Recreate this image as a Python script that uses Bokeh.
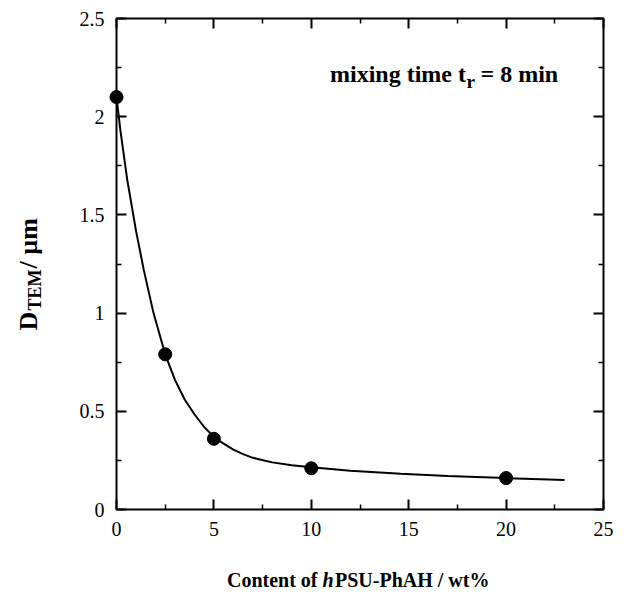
import math
from bokeh.plotting import figure
from bokeh.models import Range1d, FixedTicker, LinearAxis
from bokeh.core.properties import value
from bokeh.embed import file_html
from bokeh.resources import INLINE

# ---- data ----
content = [0, 2.5, 5, 10, 20]
d_tem = [2.10, 0.79, 0.36, 0.21, 0.16]

fit_x = [0, 0.2, 0.55, 1.0, 1.4, 1.9, 2.5, 3.0, 3.5, 4.0, 4.5, 5.0, 5.5, 6.0, 6.5, 7.0,
         8.0, 9.0, 10, 12, 14.6, 17, 20, 23]
fit_y = [2.10, 1.93, 1.68, 1.42, 1.22, 1.00, 0.79, 0.66, 0.56, 0.485, 0.42, 0.37, 0.335,
         0.305, 0.282, 0.263, 0.240, 0.225, 0.215, 0.197, 0.182, 0.170, 0.160, 0.150]

x_ticks = [0, 5, 10, 15, 20, 25]
x_tick_labels = ["0", "5", "10", "15", "20", "25"]
x_minor = [2.5, 7.5, 12.5, 17.5, 22.5]
y_ticks = [0, 0.5, 1.0, 1.5, 2.0, 2.5]
y_tick_labels = ["0", "0.5", "1", "1.5", "2", "2.5"]
y_minor = [0.25, 0.75, 1.25, 1.75, 2.25]

SERIF = "Liberation Serif"

# ---- geometry (canvas pixels) ----
W, H = 628, 592
AX_L, AX_R, AX_T, AX_B = 116, 603, 18, 509   # frame edges

def dx(px):   # canvas x -> data x
    return (px - AX_L) / (AX_R - AX_L) * 25.0
def dy(py):   # canvas y -> data y
    return (AX_B - py) / (AX_B - AX_T) * 2.5

p = figure(width=W, height=H, output_backend="svg", toolbar_location=None,
           x_range=Range1d(0, 25), y_range=Range1d(0, 2.5),
           min_border_left=AX_L, min_border_right=W - AX_R,
           min_border_top=AX_T, min_border_bottom=H - AX_B,
           background_fill_color="white", border_fill_color="white")
p.grid.visible = False
p.outline_line_color = "black"
p.outline_line_width = 2

def style_axis(ax, ticks, minor, labels, show):
    ax.ticker = FixedTicker(ticks=ticks, minor_ticks=minor)
    ax.axis_line_color = None
    ax.major_tick_in = 10
    ax.major_tick_out = 0
    ax.minor_tick_in = 5
    ax.minor_tick_out = 0
    ax.major_tick_line_color = "black"
    ax.minor_tick_line_color = "black"
    ax.major_tick_line_width = 2
    ax.minor_tick_line_width = 1.5
    if show:
        ax.major_label_overrides = {t: l for t, l in zip(ticks, labels)}
        ax.major_label_text_font = SERIF
        ax.major_label_text_font_size = "20px"
        ax.major_label_text_color = "black"
        ax.major_label_standoff = 12
    else:
        ax.major_label_overrides = {t: "" for t in ticks}
        ax.major_label_text_font_size = "0px"
        ax.major_label_standoff = 0

style_axis(p.xaxis[0], x_ticks, x_minor, x_tick_labels, True)
style_axis(p.yaxis[0], y_ticks, y_minor, y_tick_labels, True)
top_ax = LinearAxis()
right_ax = LinearAxis()
style_axis(top_ax, x_ticks, x_minor, x_tick_labels, False)
style_axis(right_ax, y_ticks, y_minor, y_tick_labels, False)
p.add_layout(top_ax, "above")
p.add_layout(right_ax, "right")

# fitted curve and data points (points drawn unclipped so the x=0 point shows whole)
p.line(fit_x, fit_y, line_color="black", line_width=2)
p.scatter(content, d_tem, size=13, marker="circle", fill_color="black", line_color="black",
          level="overlay")

def txt(px, py, s, size, align="left", style="bold", angle=0.0):
    p.text(x=[dx(px)], y=[dy(py)], text=[s], angle=angle,
           text_font=value(SERIF), text_font_size=value(size),
           text_font_style=value(style), text_color="black",
           text_align=value(align), text_baseline=value("alphabetic"),
           level="overlay")

# annotation: mixing time t_r = 8 min
txt(465.5, 73, "mixing time t", "24px", align="right")
txt(466, 81, "r", "19px")
txt(480, 73, "= 8 min", "24px")

# y title: D_TEM / µm (rotated)
rot = math.pi / 2
txt(28, 330, "D", "26px", angle=rot)
txt(34.5, 310, "TEM", "18px", angle=rot)
txt(28, 268, " / µm", "26px", angle=rot)

# x title: Content of hPSU-PhAH / wt%
base = 579
txt(317, base, "Content of", "20px", align="right")
txt(322, base, "h", "20px", style="bold italic")
txt(334.5, base, "PSU-PhAH / wt%", "20px")

open("out.html", "w").write(file_html(p, INLINE))
